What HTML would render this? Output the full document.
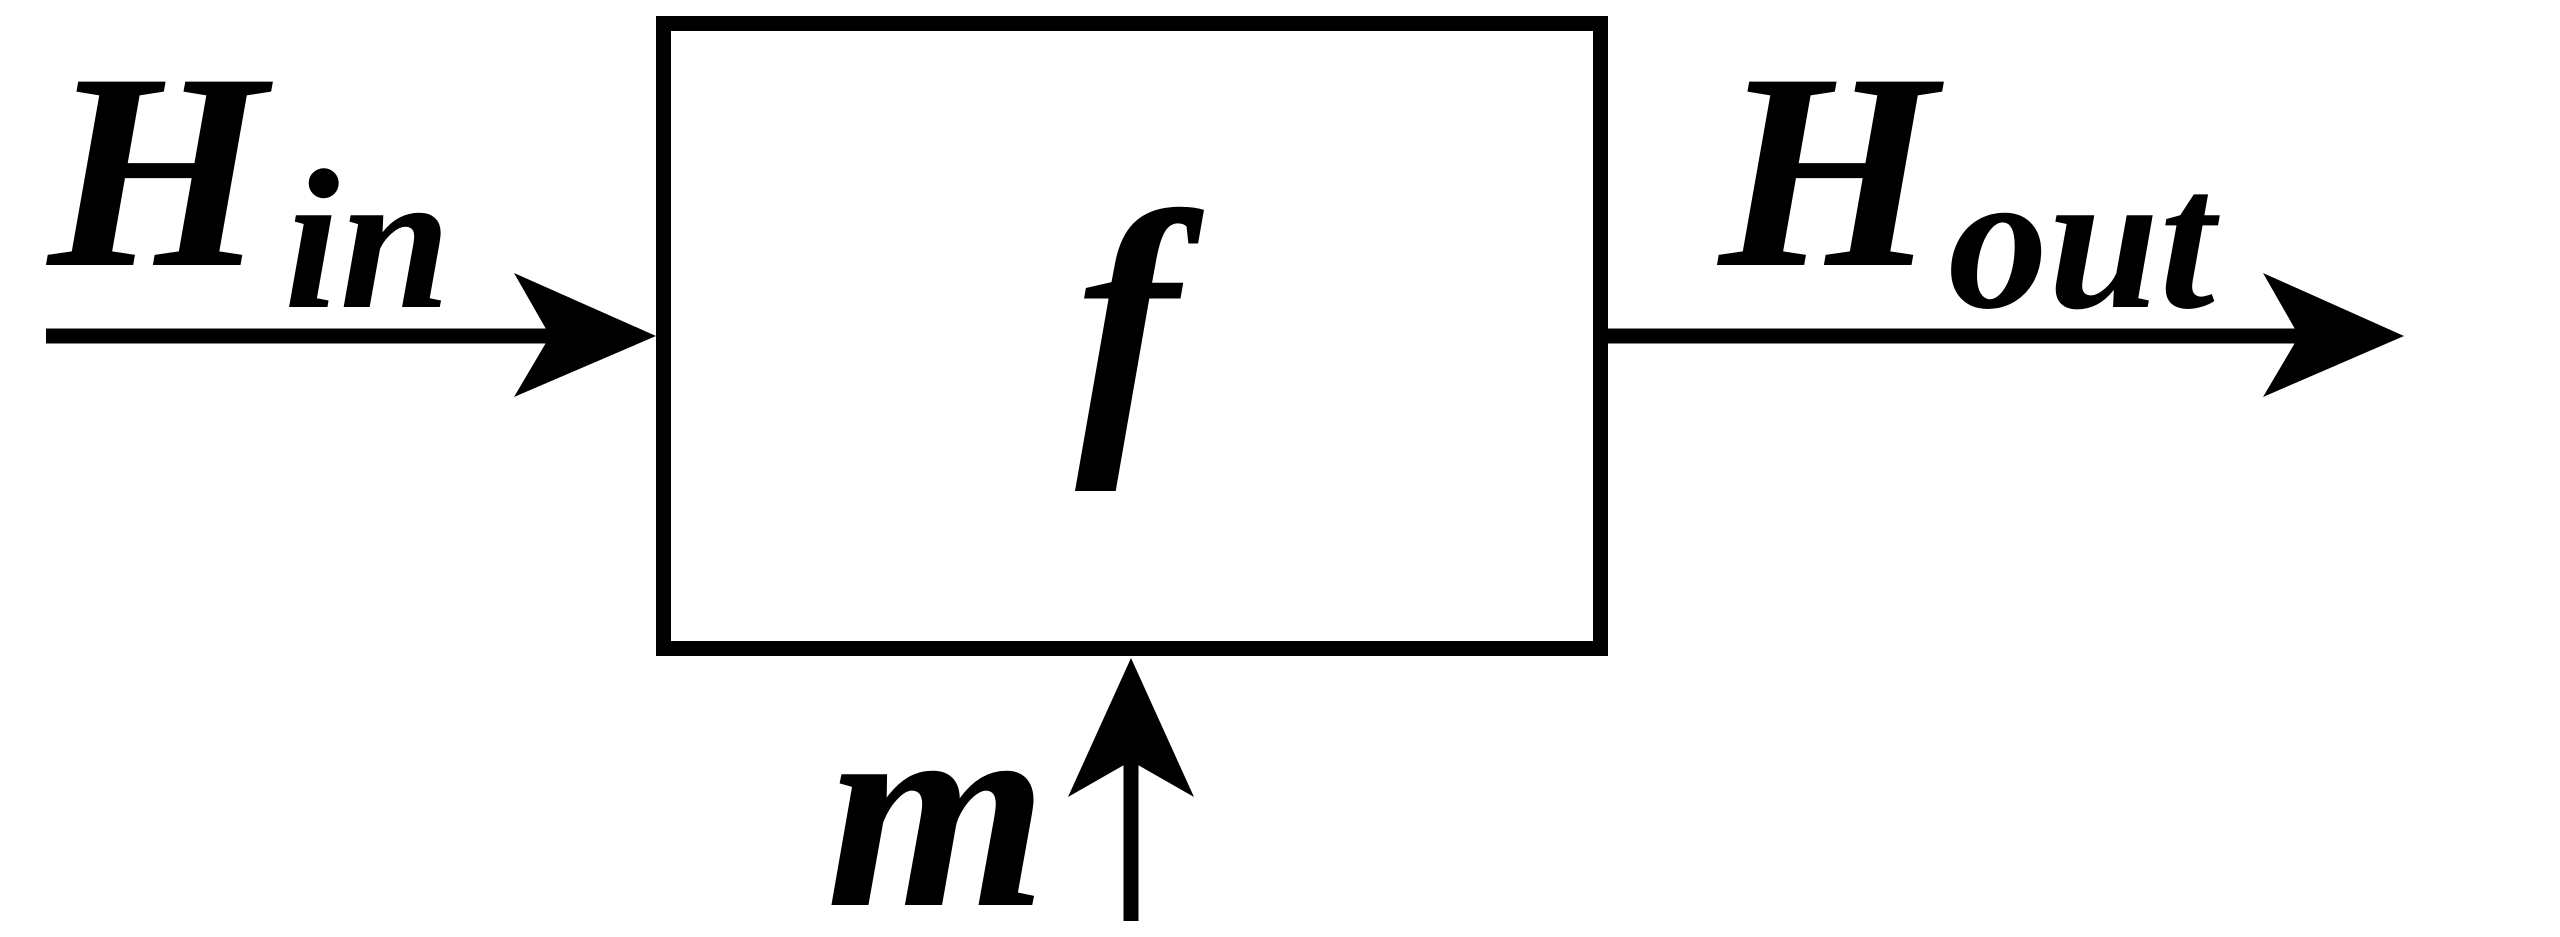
<!DOCTYPE html>
<html><head><meta charset="utf-8"><style>
html,body{margin:0;padding:0;background:#fff;}
svg{display:block;}
text{font-family:"Liberation Serif",serif;font-style:italic;font-weight:bold;fill:#000;}
</style></head><body>
<svg width="2560" height="937" viewBox="0 0 2560 937" xmlns="http://www.w3.org/2000/svg">
<rect x="663.5" y="23.5" width="937" height="625" fill="none" stroke="#000" stroke-width="15"/>
<line x1="46" y1="336" x2="560" y2="336" stroke="#000" stroke-width="15"/>
<polygon points="656,336 514,273 550,336 514,397" fill="#000"/>
<line x1="1608" y1="336" x2="2305" y2="336" stroke="#000" stroke-width="15"/>
<polygon points="2404,336 2263,273 2299,336 2263,397" fill="#000"/>
<line x1="1131" y1="921" x2="1131" y2="750" stroke="#000" stroke-width="15"/>
<polygon points="1131,658 1068,797 1131,761 1194,797" fill="#000"/>
<text x="48" y="265" font-size="280">H</text>
<text x="284" y="307" font-size="200">in</text>
<text x="1719" y="265" font-size="280">H</text>
<text x="1948" y="307" font-size="200">out</text>
<text x="1075" y="425" font-size="310" font-weight="normal">f</text>
<text x="826" y="905" font-size="285">m</text>
</svg>
</body></html>
